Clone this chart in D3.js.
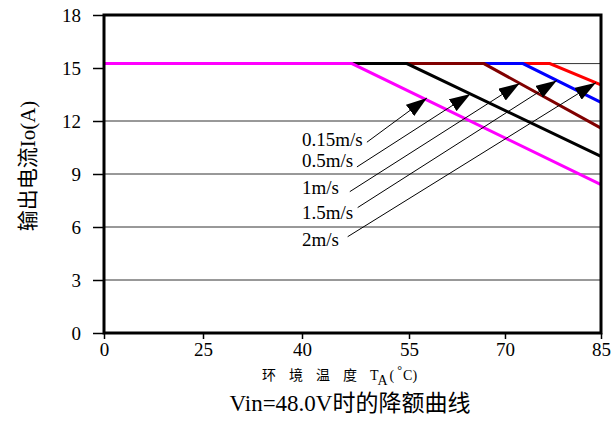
<!DOCTYPE html>
<html>
<head>
<meta charset="utf-8">
<script src="https://cdn.jsdelivr.net/npm/d3@7"></script>
<style>
  body { margin: 0; background: #fff; }
  text { font-family: "Liberation Serif", "Noto Sans CJK SC", serif; fill: #000; }
</style>
</head>
<body>
<div class="svgContainer"></div>
<script>
// axis ticks (the temperature axis is not uniform in the original)
let tempTicks = [0, 25, 40, 55, 70, 85];
let currentTicks = [0, 3, 6, 9, 12, 15, 18];

// derating curves, one per airflow
let airflow = ["0.15m/s", "0.5m/s", "1m/s", "1.5m/s", "2m/s"];
let flatCurrent = 15.25;
let kneeTemp = [47.0, 54.7, 66.7, 72.8, 77.0];
let endCurrent = [8.4, 10.0, 11.6, 13.05, 14.05];
let lineColors = ["#ff00ff", "#000000", "#800000", "#0000ff", "#ff0000"];

// annotation arrows (data units)
let tailTemp = [49.1, 47.7, 46.7, 47.8, 46.4];
let tailCurrent = [10.8, 9.4, 8.0, 7.1, 5.45];
let tipTemp = [57.8, 64.6, 72.3, 78.1, 84.2];
let labelTemp = 40;
let labelCurrent = [10.6, 9.4, 7.85, 6.45, 4.95];

let w = 612;
let h = 423;
let plotL = 104, plotR = 601, plotT = 15, plotB = 333;
let tickFrac = [0, 0.1992, 0.3984, 0.6137, 0.8068, 1];

let xScale = d3.scaleLinear()
    .domain(tempTicks)
    .range(tickFrac.map(f => plotL + f * (plotR - plotL)));

let yScale = d3.scaleLinear()
    .domain([0, 18])
    .range([plotB, plotT]);

const svg = d3.select(".svgContainer")
    .append("svg")
    .attr("width", w)
    .attr("height", h);

// gridlines (the top one sits on the rated current level, as in the original)
let gridValues = [3, 6, 9, 12, flatCurrent];
svg.append("g")
    .selectAll("line")
    .data(gridValues)
    .enter()
    .append("line")
    .attr("x1", plotL)
    .attr("x2", plotR)
    .attr("y1", d => yScale(d))
    .attr("y2", d => yScale(d))
    .attr("stroke", "#333")
    .attr("stroke-width", 1);

function currentAt(i, t) {
    if (t <= kneeTemp[i]) return flatCurrent;
    return flatCurrent + (endCurrent[i] - flatCurrent) * (t - kneeTemp[i]) / (85 - kneeTemp[i]);
}

let line = d3.line()
    .x(d => xScale(d[0]))
    .y(d => yScale(d[1]));

// draw from 2m/s down to 0.15m/s so the lower curves sit on top
let order = d3.range(airflow.length).reverse();
svg.append("g")
    .selectAll("path")
    .data(order)
    .enter()
    .append("path")
    .attr("d", i => line([[0, flatCurrent], [kneeTemp[i], flatCurrent], [85, endCurrent[i]]]))
    .attr("fill", "none")
    .attr("stroke", i => lineColors[i])
    .attr("stroke-width", 3);

// arrowhead
svg.append("defs")
    .append("marker")
    .attr("id", "head")
    .attr("markerUnits", "userSpaceOnUse")
    .attr("viewBox", "0 -7 21 14")
    .attr("refX", 21)
    .attr("refY", 0)
    .attr("markerWidth", 21)
    .attr("markerHeight", 14)
    .attr("orient", "auto")
    .append("path")
    .attr("d", "M0,-7L21,0L0,7Z")
    .attr("fill", "#000");

svg.append("g")
    .selectAll("line")
    .data(airflow)
    .enter()
    .append("line")
    .attr("x1", (d, i) => xScale(tailTemp[i]))
    .attr("y1", (d, i) => yScale(tailCurrent[i]))
    .attr("x2", (d, i) => xScale(tipTemp[i]))
    .attr("y2", (d, i) => yScale(currentAt(i, tipTemp[i])))
    .attr("stroke", "#000")
    .attr("stroke-width", 1)
    .attr("marker-end", "url(#head)");

svg.append("g")
    .selectAll("text")
    .data(airflow)
    .enter()
    .append("text")
    .attr("x", xScale(labelTemp))
    .attr("y", (d, i) => yScale(labelCurrent[i]))
    .style("font-size", "19px")
    .text(d => d);

// axes
const xAxis = d3.axisBottom(xScale).tickValues(tempTicks).tickSize(6).tickPadding(4);
const yAxis = d3.axisLeft(yScale).tickValues(currentTicks).tickSize(11).tickPadding(12);

let gx = svg.append("g")
    .attr("id", "x-axis")
    .attr("transform", `translate(0, ${plotB})`)
    .call(xAxis);
let gy = svg.append("g")
    .attr("id", "y-axis")
    .attr("transform", `translate(${plotL}, 0)`)
    .call(yAxis);

[gx, gy].forEach(g => {
    g.select(".domain").remove();
    g.selectAll(".tick line").attr("stroke", "#000").attr("stroke-width", 1.5);
    g.selectAll(".tick text")
        .style("font-family", "'Liberation Serif', serif")
        .style("font-size", "19px")
        .attr("fill", "#000");
});

// frame
svg.append("rect")
    .attr("x", plotL)
    .attr("y", plotT)
    .attr("width", plotR - plotL)
    .attr("height", plotB - plotT)
    .attr("fill", "none")
    .attr("stroke", "#000")
    .attr("stroke-width", 3);

// y label
svg.append("text")
    .attr("transform", "rotate(-90)")
    .attr("x", -166)
    .attr("y", 35)
    .attr("text-anchor", "middle")
    .style("font-size", "21px")
    .text("输出电流Io(A)");

// x label
let xl = svg.append("text")
    .attr("x", 262)
    .attr("y", 380)
    .style("font-size", "14px");
xl.append("tspan").text("环境温度").style("letter-spacing", "13px");
xl.append("tspan").text("T").style("font-size", "14px");
xl.append("tspan").attr("dy", 5).text("A").style("font-size", "14px");
xl.append("tspan").attr("dy", -5).attr("dx", 2).text("(").style("font-size", "14px");
xl.append("tspan").attr("dy", -6).attr("dx", 3).text("°").style("font-size", "12px");
xl.append("tspan").attr("dy", 6).attr("dx", 1).text("C)").style("font-size", "14px");

// title
svg.append("text")
    .attr("x", 350)
    .attr("y", 411)
    .attr("text-anchor", "middle")
    .style("font-size", "23px")
    .text("Vin=48.0V时的降额曲线");
</script>
</body>
</html>
